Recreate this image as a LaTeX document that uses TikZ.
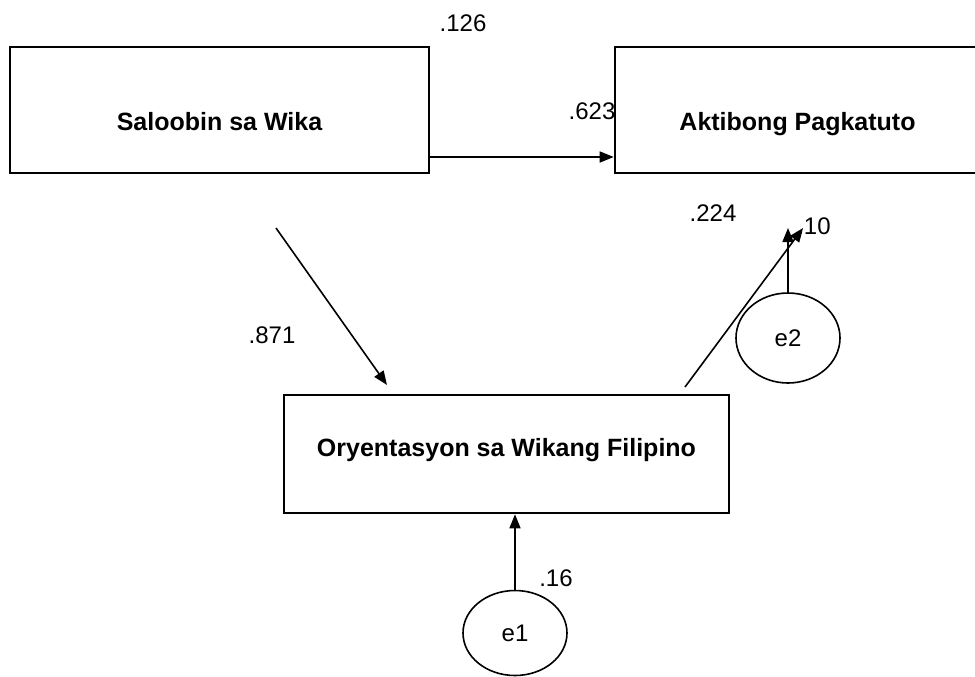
\documentclass[tikz,border=0pt]{standalone}
\usepackage{fontspec}
\setmainfont{Liberation Sans}
\usepackage{tikz}
\usetikzlibrary{shapes.geometric,arrows.meta,positioning,calc}

\begin{document}
\begin{tikzpicture}[x=0.5pt, y=-0.5pt, every node/.style={font=\fontsize{12}{14}\selectfont},
  box/.style={draw, line width=1.3pt, minimum height=63pt, text depth=3pt, font=\fontsize{12.5}{15}\selectfont\bfseries},
  err/.style={draw, ellipse, line width=0.8pt, minimum width=52pt, minimum height=44pt},
  link/.style={-{Triangle[length=7pt,width=5.5pt]}, line width=0.8pt}]
  \useasboundingbox (0,0) rectangle (975,676);
  % Variables
  \node[box, minimum width=209.5pt, text height=23.6pt] (saloobin) at (219.5,110) {Saloobin sa Wika};
  \node[box, minimum width=182.5pt, text height=23.6pt] (aktibo) at (797.5,110) {Aktibong Pagkatuto};
  \node[box, minimum width=222.5pt, minimum height=59pt, text height=5.6pt] (oryent) at (506.5,454) {Oryentasyon sa Wikang Filipino};
  % Error terms
  \node[err, minimum height=42.5pt] (e1) at (515,633) {e1};
  \node[err, minimum height=45pt] (e2) at (788,338) {e2};
  % Free ends of the paths
  \coordinate (s0) at (276,228);
  \coordinate (s1) at (387,385);
  \coordinate (o0) at (685,387);
  \coordinate (a1) at (803,228);
  % Paths
  \draw[link] (saloobin.east |- 0,157) -- (aktibo.west |- 0,157);
  \draw[link] (s0) -- (s1);
  \draw[link] (o0) -- (a1);
  \draw[link] (e2.north) -- (e2.north |- a1);
  \draw[link] (e1.north) -- (oryent.south -| e1.north);
  % Coefficients
  \node (c126) at (463,23) {.126};
  \node (c623) at (592,111) {.623};
  \node (c224) at (713,213) {.224};
  \node (c10) at (814,226) {.10};
  \node (c871) at (272,335) {.871};
  \node (c16) at (556,578) {.16};
\end{tikzpicture}
\end{document}
